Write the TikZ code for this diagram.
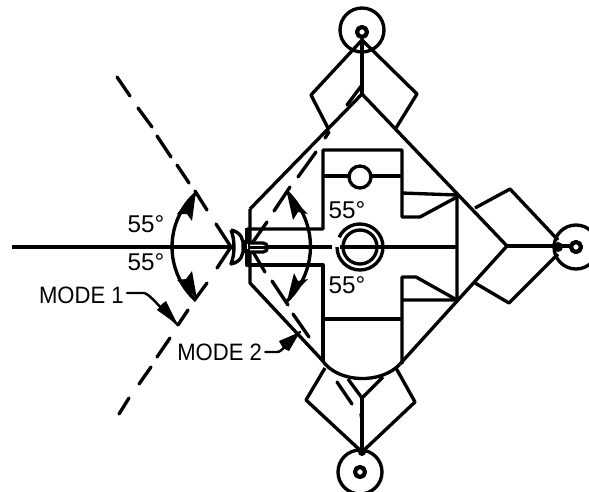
\documentclass[tikz,border=0pt]{standalone}
\usepackage{fontspec}
\setmainfont{Liberation Sans}
\newfontfamily\lblfont[FakeStretch=0.93]{Liberation Sans}
\usetikzlibrary{positioning}
\tikzset{
  body/.style={black,line width=1.9pt,line join=round},
  beam/.style={black,line width=1.9pt,line cap=round},
  leader/.style={black,line width=1.4pt,line cap=round},
  lbl/.style={inner sep=0pt,font=\lblfont\fontsize{13.5}{13.5}\selectfont},
  num/.style={inner sep=0pt,font=\fontsize{13.8}{13.8}\selectfont},
}
\begin{document}
\begin{tikzpicture}[x=0.02cm,y=0.02cm]
\useasboundingbox (0,0) rectangle (589,-491);
% axis
\draw [body] (12,-247) -- (332,-247);
\draw [body] (340,-247) -- (457,-247);
% hull
\draw [body] (250,-209) -- (362,-94) -- (507,-246) -- (400,-364);
\draw [body] (250,-209) -- (250,-283) -- (322,-360);
\draw [body] (322,-360) .. controls (338,-384) and (382,-384) .. (400,-364);
% equipment bay
\draw [body] (247,-229) -- (323,-229) -- (323,-150) -- (402,-150) -- (402,-217) -- (420,-217) -- (457,-197);
\draw [body] (323,-176) -- (349,-176);
\draw [body] (371,-176) -- (402,-176);
\draw [body] (360,-177) circle (11);
\draw [body] (402,-193) -- (457,-195) -- (457,-300) -- (402,-300);
\draw [body] (247,-228) -- (247,-265) -- (323,-265) -- (323,-362);
\draw [body] (323,-319) -- (402,-319);
\draw [body] (402,-364) -- (402,-277) -- (416,-277) -- (457,-300);
% centre rings
\draw [body] (360,-247) circle (17);
\draw [body] (337,-247) arc (180:360:23) arc (0:155:23);
% top panel
\draw [body] (328,-128) -- (311,-95) -- (362,-40) -- (417,-94) -- (396,-128);
\draw [body] (362,-40) -- (362,-94);
\draw [body] (362,-30) circle (22);
\draw [body,fill=white,line width=2.4pt] (362,-32) circle (5);
% right panel
\draw [body] (475,-208) -- (510,-189) -- (558,-240);
\draw [body] (475,-283) -- (509,-303) -- (558,-254);
\draw [body] (507,-246) -- (570,-246);
\fill [black] (558,-247) circle (5);
\draw [body] (576,-247) circle (22);
\draw [body,fill=white,line width=2.4pt] (576,-247) circle (5);
% bottom panel
\draw [body] (325,-368) -- (306,-400) -- (362,-452) -- (415,-402) -- (396,-368);
\draw [body] (348,-379) -- (362,-398) -- (383,-377);
\draw [body] (362,-398) -- (362,-452);
\fill [black] (362,-452) circle (4);
\draw [body] (360,-472) circle (22);
\draw [body,fill=white,line width=2.4pt] (360,-472) circle (5);
% dish and feed
\draw [body,fill=white] (231,-230) .. controls (241,-232) and (244,-240) .. (243,-247) .. controls (244,-254) and (241,-262) .. (231,-264) .. controls (235,-254) and (235,-240) .. (231,-230);
\draw [body,fill=white] (245,-242) rectangle (250,-251);
\draw [body,fill=white] (250,-243) -- (263,-243) arc (90:-90:4.5) -- (250,-252);
\draw [body] (250,-247.5) -- (290,-247.5);
% mode 1 beam
\draw [beam] (231,-247) -- (216,-224);
\draw [beam] (231,-247) -- (217,-268);
\draw [beam] (195,-191) -- (207,-210);
\draw [beam] (177,-165) -- (189,-183);
\draw [beam] (157,-136) -- (171,-157);
\draw [beam] (138,-108) -- (152,-127);
\draw [beam] (117,-77) -- (130,-96);
\draw [beam] (207,-283) -- (196,-298);
\draw [beam] (188,-310) -- (178,-325);
\draw [beam] (170,-338) -- (157,-357);
\draw [beam] (151,-367) -- (139,-384);
\draw [beam] (129,-398) -- (119,-414);
% mode 2 beam
\draw [beam] (267,-222) -- (253,-242);
\draw [beam] (274,-211) -- (290,-187);
\draw [beam] (298,-177) -- (316,-152);
\draw [beam] (347,-105) -- (362,-85);
\draw [beam] (325,-138) -- (329,-132);
\draw [beam] (253,-252) -- (265,-272);
\draw [beam] (272,-281) -- (288,-305);
\draw [beam] (293,-314) -- (309,-337);
\draw [beam] (337,-382) -- (352,-404);
\draw [beam] (361,-414) -- (362,-420);
% sweep arcs
\draw [body] (196,-193) arc (132:228:72.5);
\fill [black] (196,-191) -- (177,-214) -- (187,-214) -- (192,-221) -- cycle;
\fill [black] (197,-299) -- (177,-280) -- (186,-279) -- (192,-271) -- cycle;
\draw [body] (287,-192) arc (46.6:-46.6:75);
\fill [black] (287,-193) -- (308,-214) -- (298,-212) -- (293,-220) -- cycle;
\fill [black] (287,-301) -- (308,-279) -- (298,-281) -- (294,-273) -- cycle;
% labels
\node [num] (up1) at (146,-224) {55°};
\node [num] (low1) at (146,-262) {55°};
\node [num] (up2) at (347,-210) {55°};
\node [num] (low2) at (347,-285) {55°};
\node [lbl,anchor=east] (mode1) at (124,-295) {MODE 1};
\node [lbl,anchor=west] (mode2) at (177,-352) {MODE 2};
\coordinate (tip1) at (178,-325);
\coordinate (tip2) at (300,-332);
\draw [leader] (mode1.east) ++(3,2) -- ++(17,0) .. controls (150,-294) and (160,-308) .. (tip1);
\fill [black] (tip1) -- (157,-310) -- (162,-304) -- (166,-301) -- cycle;
\draw [leader] (mode2.east) ++(3,0) -- ++(12,0) .. controls (282,-352) and (288,-342) .. (tip2);
\fill [black] (tip2) -- (279,-341) -- (283,-348) -- (289,-351) -- cycle;
\end{tikzpicture}
\end{document}
